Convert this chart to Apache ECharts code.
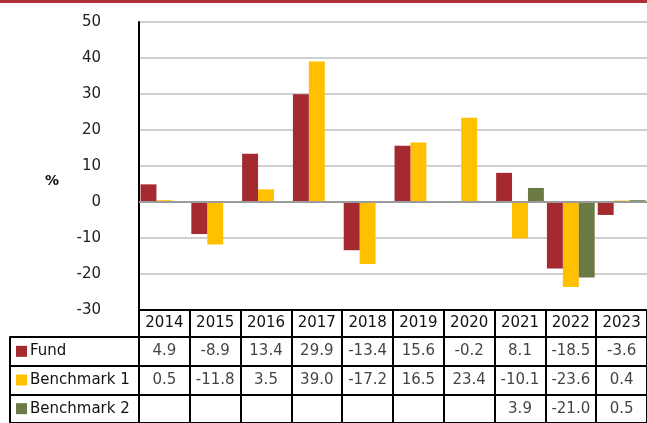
<!DOCTYPE html>
<html>
<head>
<meta charset="utf-8">
<script src="https://cdn.jsdelivr.net/npm/echarts@6/dist/echarts.min.js"></script>
<style>
  html, body { margin: 0; padding: 0; background: #fff; }
  #chart { width: 647px; height: 423px; }
</style>
</head>
<body>
<div id="chart"></div>
<script>
var years = ['2014', '2015', '2016', '2017', '2018', '2019', '2020', '2021', '2022', '2023'];
var fund = [4.9, -8.9, 13.4, 29.9, -13.4, 15.6, -0.2, 8.1, -18.5, -3.6];
var bench1 = [0.5, -11.8, 3.5, 39.0, -17.2, 16.5, 23.4, -10.1, -23.6, 0.4];
var bench2 = [null, null, null, null, null, null, null, 3.9, -21.0, 0.5];
var rowNames = ['Fund', 'Benchmark 1', 'Benchmark 2'];
var colors = ['#A52A30', '#FFC000', '#6B7944'];

var font = 'DejaVu Sans';
var rows = [fund, bench1, bench2];

// cells of the table under the chart
var cells = [];
for (var r = 0; r < rows.length; r++) {
    for (var i = 0; i < years.length; i++) {
        if (rows[r][i] !== null) {
            cells.push([years[i], rowNames[r], rows[r][i]]);
        }
    }
}

var rich = { t: { fontSize: 15, fontFamily: font, color: '#111', padding: [0, 0, 0, 3] } };
for (var k = 0; k < rowNames.length; k++) {
    rich['s' + k] = { width: 11, height: 11, backgroundColor: colors[k] };
}

var option = {
    animation: false,
    textStyle: { fontFamily: font },
    graphic: [{
        type: 'rect', left: 0, top: 0,
        shape: { width: 647, height: 3 },
        style: { fill: '#B0303A' }
    }],
    grid: [
        { left: 139, right: -4, top: 22, height: 288 },
        { left: 139, right: -4, top: 337, height: 90 }
    ],
    xAxis: [
        {
            gridIndex: 0, type: 'category', data: years, position: 'bottom',
            axisLine: { onZero: false, lineStyle: { color: '#000', width: 2 } },
            axisTick: { show: true, length: 27, lineStyle: { color: '#000', width: 2 } },
            axisLabel: { margin: 6, fontSize: 15, color: '#111', fontFamily: font },
            splitLine: { show: false }
        },
        {
            gridIndex: 1, type: 'category', data: years, position: 'top',
            axisLine: { lineStyle: { color: '#000', width: 2 } },
            axisTick: { show: false },
            axisLabel: { show: false },
            splitLine: { show: true, lineStyle: { color: '#000', width: 2 } }
        }
    ],
    yAxis: [
        {
            gridIndex: 0, type: 'value', min: -30, max: 50, interval: 10,
            name: '%', nameLocation: 'middle', nameRotate: 0, nameGap: 80,
            nameTextStyle: { fontSize: 14, fontWeight: 'bold', color: '#111', verticalAlign: 'top', padding: [8, 0, 0, 0] },
            axisLine: { show: true, lineStyle: { color: '#000', width: 2 } },
            axisTick: { show: false },
            axisLabel: { margin: 38, fontSize: 15, color: '#222', fontFamily: font },
            splitLine: { show: true, lineStyle: { color: '#d0d0d0', width: 2 } }
        },
        {
            gridIndex: 1, type: 'category', data: rowNames, inverse: true,
            axisLine: { show: true, lineStyle: { color: '#000', width: 2 } },
            axisTick: { show: true, length: 129, lineStyle: { color: '#000', width: 2 } },
            axisLabel: {
                align: 'left', margin: 123,
                formatter: function (v, idx) { return '{s' + idx + '|}{t|' + v + '}'; },
                rich: rich
            },
            splitLine: { show: true, lineStyle: { color: '#000', width: 2 } }
        },
        {
            gridIndex: 1, type: 'category', data: rowNames, inverse: true,
            position: 'left', offset: 129,
            axisLine: { show: true, lineStyle: { color: '#000', width: 2 } },
            axisTick: { show: false },
            axisLabel: { show: false },
            splitLine: { show: false }
        }
    ],
    series: [
        {
            name: 'Fund', type: 'bar', data: fund, xAxisIndex: 0, yAxisIndex: 0,
            barGap: '0%', barCategoryGap: '6%',
            itemStyle: { color: colors[0] },
            markLine: {
                silent: true, symbol: 'none', label: { show: false },
                lineStyle: { type: 'solid', color: '#9a9a9a', width: 2 },
                data: [{ yAxis: 0 }]
            },
            z: 3
        },
        {
            name: 'Benchmark 1', type: 'bar', data: bench1, xAxisIndex: 0, yAxisIndex: 0,
            barGap: '0%', barCategoryGap: '6%',
            itemStyle: { color: colors[1] }
        },
        {
            name: 'Benchmark 2', type: 'bar', data: bench2, xAxisIndex: 0, yAxisIndex: 0,
            barGap: '0%', barCategoryGap: '6%',
            itemStyle: { color: colors[2] }
        },
        {
            name: 'table', type: 'scatter', xAxisIndex: 1, yAxisIndex: 1,
            data: cells, symbolSize: 1,
            itemStyle: { color: 'rgba(0,0,0,0)' },
            label: {
                show: true, position: 'inside',
                fontSize: 15, color: '#111', fontFamily: font,
                formatter: function (p) { return p.value[2].toFixed(1); }
            }
        }
    ]
};

var myChart = echarts.init(document.getElementById('chart'));
myChart.setOption(option);
</script>
</body>
</html>
